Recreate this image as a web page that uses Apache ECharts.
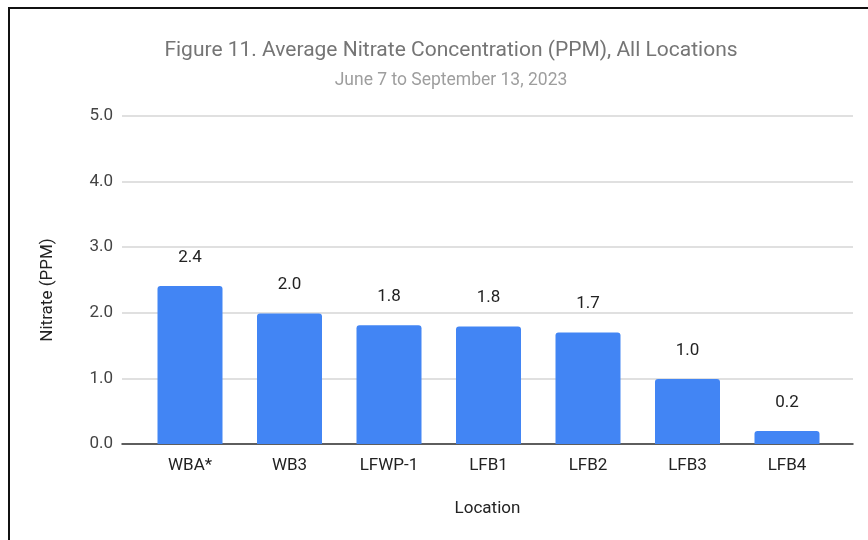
<!DOCTYPE html>
<html>
<head>
<meta charset="utf-8">
<script src="https://cdn.jsdelivr.net/npm/echarts@6/dist/echarts.min.js"></script>
<style>
  html, body { margin: 0; padding: 0; background: #fff; }
  #container { width: 868px; height: 540px; }
</style>
</head>
<body>
<div id="container"></div>
<script>
// data
var locations = ['WBA*', 'WB3', 'LFWP-1', 'LFB1', 'LFB2', 'LFB3', 'LFB4'];
var nitrate = [2.41, 1.99, 1.81, 1.79, 1.70, 0.99, 0.20];

var font = 'Roboto, Arial, sans-serif';
var dom = document.getElementById('container');
var myChart = echarts.init(dom, null, {renderer: 'canvas'});

var option = {
    backgroundColor: '#fff',
    animation: false,
    title: [{
        text: 'Figure 11. Average Nitrate Concentration (PPM), All Locations',
        left: 446,
        top: 35,
        textAlign: 'center',
        textStyle: {fontFamily: font, fontSize: 21, fontWeight: 'normal', color: '#757575'}
    }, {
        text: 'June 7 to September 13, 2023',
        left: 446,
        top: 67,
        textAlign: 'center',
        textStyle: {fontFamily: font, fontSize: 17.5, fontWeight: 'normal', color: '#9e9e9e'}
    }],
    graphic: [{
        type: 'polyline',
        shape: {points: [[9, 540], [9, 8], [868, 8]]},
        style: {stroke: '#111', lineWidth: 2, fill: null}
    }],
    // grid 0 carries gridlines and baseline, grid 1 the bars (inset like the original)
    grid: [
        {left: 122, right: 15, top: 116, bottom: 96},
        {left: 140.25, right: 31.25, top: 116, bottom: 96}
    ],
    xAxis: [{
        gridIndex: 0,
        type: 'category',
        data: locations,
        name: 'Location',
        nameLocation: 'middle',
        nameGap: 56,
        nameTextStyle: {fontFamily: font, fontSize: 17, color: '#222'},
        axisLine: {show: true, lineStyle: {color: '#333', width: 1.5}},
        axisTick: {show: false},
        axisLabel: {show: false}
    }, {
        gridIndex: 1,
        type: 'category',
        data: locations,
        axisLine: {show: false},
        axisTick: {show: false},
        axisLabel: {margin: 13, fontFamily: font, fontSize: 17, color: '#222'}
    }],
    yAxis: [{
        gridIndex: 0,
        type: 'value',
        min: 0,
        max: 5,
        interval: 1,
        name: 'Nitrate (PPM)',
        nameLocation: 'middle',
        nameGap: 66,
        nameTextStyle: {fontFamily: font, fontSize: 17, color: '#222', padding: [0, 20, 0, 0]},
        axisLine: {show: false},
        axisTick: {show: false},
        axisLabel: {
            margin: 9, fontFamily: font, fontSize: 17, color: '#444',
            formatter: function (v) { return v.toFixed(1); }
        },
        splitLine: {lineStyle: {color: '#d6d6d6', width: 1.5}}
    }, {
        gridIndex: 1,
        type: 'value',
        min: 0,
        max: 5,
        interval: 1,
        show: false
    }],
    series: [{
        type: 'bar',
        xAxisIndex: 1,
        yAxisIndex: 1,
        data: nitrate,
        barWidth: 65,
        itemStyle: {color: '#4285f4', borderRadius: [3, 3, 0, 0]},
        label: {
            show: true,
            position: 'top',
            distance: 20,
            fontFamily: font,
            fontSize: 17,
            color: '#222',
            formatter: function (p) { return p.value.toFixed(1); }
        }
    }]
};

myChart.setOption(option);
</script>
</body>
</html>
